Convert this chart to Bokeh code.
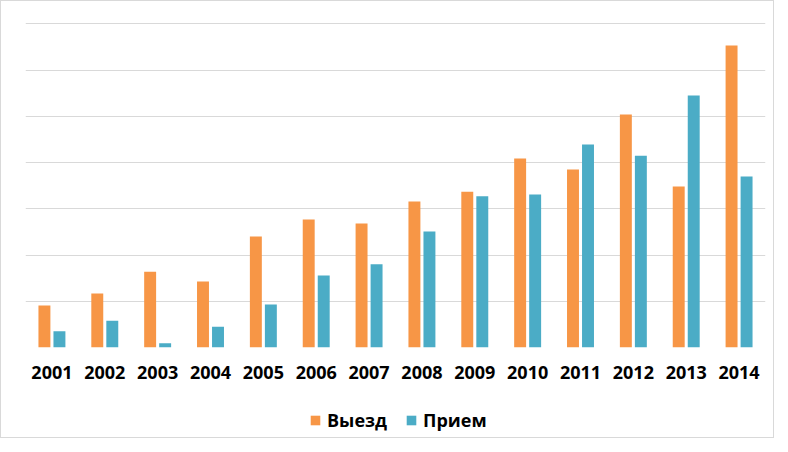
from bokeh.plotting import figure
from bokeh.layouts import column
from bokeh.models import ColumnDataSource, FactorRange, Range1d, SingleIntervalTicker, Legend, LegendItem
from bokeh.transform import dodge
from bokeh.embed import file_html
from bokeh.resources import INLINE

years = ["2001", "2002", "2003", "2004", "2005", "2006", "2007",
         "2008", "2009", "2010", "2011", "2012", "2013", "2014"]
vyezd = [0.91, 1.17, 1.64, 1.43, 2.40, 2.77, 2.68, 3.16, 3.37, 4.09, 3.85, 5.04, 3.48, 6.53]
priem = [0.35, 0.58, 0.09, 0.45, 0.93, 1.56, 1.80, 2.51, 3.27, 3.31, 4.39, 4.15, 5.45, 3.70]
series_names = ["Выезд", "Прием"]
colors = ["#F79646", "#4BACC6"]

src = ColumnDataSource(dict(years=years, vyezd=vyezd, priem=priem))

p = figure(width=772, height=400, x_range=FactorRange(*years), y_range=Range1d(0, 7.03),
           output_backend="svg", toolbar_location=None, y_axis_location=None,
           min_border_left=24, min_border_right=8, min_border_top=21, min_border_bottom=54)
p.outline_line_color = None

p.vbar(x=dodge("years", -0.142, range=p.x_range), top="vyezd", width=0.226,
       source=src, color=colors[0], line_color=None)
p.vbar(x=dodge("years", 0.142, range=p.x_range), top="priem", width=0.226,
       source=src, color=colors[1], line_color=None)

p.xgrid.grid_line_color = None
p.ygrid.ticker = SingleIntervalTicker(interval=1)
p.ygrid.grid_line_color = "#D9D9D9"
p.ygrid.grid_line_width = 1

ax = p.xaxis[0]
ax.axis_line_color = None
ax.major_tick_line_color = None
ax.minor_tick_line_color = None
ax.major_label_text_font = "Open Sans"
ax.major_label_text_font_style = "bold"
ax.major_label_text_font_size = "18px"
ax.major_label_text_color = "#000000"
ax.major_label_standoff = 12

# legend strip (swatch renderers sit outside the visible range)
lf = figure(width=772, height=36, x_range=Range1d(0, 1), y_range=Range1d(0, 1),
            output_backend="svg", toolbar_location=None,
            x_axis_location=None, y_axis_location=None,
            min_border_left=0, min_border_right=0, min_border_top=0, min_border_bottom=0)
lf.outline_line_color = None
lf.xgrid.visible = False
lf.ygrid.visible = False
lr1 = lf.vbar(x=[-5], top=[0], width=0.1, color=colors[0], line_color=None)
lr2 = lf.vbar(x=[-5], top=[0], width=0.1, color=colors[1], line_color=None)

legend = Legend(items=[LegendItem(label=series_names[0], renderers=[lr1]),
                       LegendItem(label=series_names[1], renderers=[lr2])],
                location=(284, 5), orientation="horizontal",
                glyph_width=12, glyph_height=12, label_standoff=6, spacing=18,
                padding=0, margin=0, border_line_color=None, background_fill_alpha=0,
                label_text_font="Open Sans", label_text_font_style="bold",
                label_text_font_size="18px", label_text_color="#000000")
lf.add_layout(legend, "center")

layout = column(p, lf, spacing=0)
layout.styles = {"border": "1px solid #D9D9D9"}

open("out.html", "w").write(file_html(layout, INLINE))
